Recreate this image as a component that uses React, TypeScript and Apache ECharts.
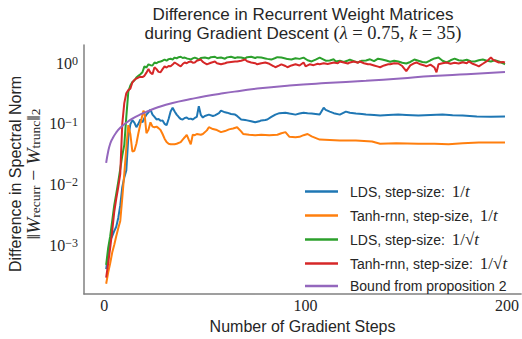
import React, { useEffect, useRef } from "react";
import * as echarts from "echarts";

const seriesNames = [
  "LDS, step-size: 1/t",
  "Tanh-rnn, step-size, 1/t",
  "LDS, step-size: 1/√t",
  "Tanh-rnn, step-size: 1/√t",
  "Bound from proposition 2",
];
const colors = ["#1f77b4", "#ff7f0e", "#2ca02c", "#d62728", "#9467bd"];
const xTicks = [0, 100, 200];

const ldsInvT: [number, number][] = [
  [1, 0.0004], [2, 0.0007], [3, 0.0012], [4, 0.0014], [5, 0.0017], [6, 0.002], [7, 0.0028], [8, 0.0045],
  [9, 0.009], [10, 0.013], [11, 0.017], [12, 0.06], [13, 0.098], [14, 0.115], [15, 0.105], [16, 0.088],
  [17, 0.1], [18, 0.118], [19, 0.106], [20, 0.125], [21, 0.142], [22, 0.155], [23, 0.171], [24, 0.142],
  [25, 0.13], [26, 0.118], [27, 0.12], [28, 0.112], [29, 0.114], [30, 0.1], [31, 0.095], [32, 0.12],
  [33, 0.16], [34, 0.185], [35, 0.16], [36, 0.142], [37, 0.13], [38, 0.12], [39, 0.118], [40, 0.125],
  [41, 0.127], [42, 0.12], [43, 0.122], [44, 0.118], [45, 0.125], [46, 0.13], [47, 0.195], [48, 0.14],
  [49, 0.127], [50, 0.135], [52, 0.142], [54, 0.135], [55, 0.138], [57, 0.15], [58, 0.165], [60, 0.155],
  [61, 0.153], [63, 0.145], [65, 0.142], [66, 0.135], [68, 0.118], [70, 0.116], [71, 0.114], [73, 0.11],
  [75, 0.106], [77, 0.11], [78, 0.114], [80, 0.116], [81, 0.118], [83, 0.13], [85, 0.142], [87, 0.15],
  [90, 0.153], [92, 0.148], [95, 0.142], [97, 0.148], [99, 0.153], [101, 0.15], [103, 0.148], [105, 0.145],
  [107, 0.142], [109, 0.184], [110, 0.17], [112, 0.159], [114, 0.15], [117, 0.142], [120, 0.159], [122, 0.152],
  [125, 0.148], [128, 0.145], [130, 0.142], [134, 0.14], [137, 0.137], [141, 0.14], [146, 0.142], [150, 0.14],
  [156, 0.137], [162, 0.14], [168, 0.142], [173, 0.139], [178, 0.137], [185, 0.132], [192, 0.131], [199, 0.132],
];

const tanhInvT: [number, number][] = [
  [1, 0.00023], [2, 0.00035], [3, 0.0005], [4, 0.00075], [5, 0.001], [6, 0.0014], [7, 0.0019], [8, 0.0025],
  [9, 0.006], [10, 0.015], [11, 0.04], [12, 0.095], [13, 0.068], [14, 0.035], [15, 0.036], [16, 0.047],
  [17, 0.07], [18, 0.1], [19, 0.14], [19.5, 0.165], [20, 0.155], [21, 0.07], [22, 0.08], [23, 0.106],
  [24, 0.09], [25, 0.088], [26, 0.09], [27, 0.085], [28, 0.079], [29, 0.068], [30, 0.057], [31, 0.05],
  [32, 0.047], [33, 0.046], [35, 0.046], [36, 0.047], [38, 0.05], [39, 0.055], [40, 0.06], [41, 0.066],
  [42, 0.055], [43, 0.046], [44, 0.066], [45, 0.065], [46, 0.068], [48, 0.066], [49, 0.068], [51, 0.078],
  [52, 0.088], [54, 0.082], [56, 0.079], [58, 0.073], [60, 0.076], [62, 0.081], [64, 0.084], [66, 0.088],
  [68, 0.075], [69, 0.068], [72, 0.066], [75, 0.065], [78, 0.066], [82, 0.065], [86, 0.066], [88, 0.07],
  [90, 0.073], [92, 0.061], [95, 0.06], [97, 0.061], [99, 0.065], [101, 0.068], [103, 0.062], [107, 0.055],
  [112, 0.054], [117, 0.053], [125, 0.053], [133, 0.051], [137, 0.047], [145, 0.048], [156, 0.047], [164, 0.047],
  [171, 0.046], [178, 0.048], [186, 0.049], [192, 0.049], [199, 0.049],
];

const ldsInvSqrtT: [number, number][] = [
  [1, 0.00047], [2, 0.0009], [3, 0.0014], [4, 0.0025], [5, 0.0045], [6, 0.007], [7, 0.011], [8, 0.018],
  [9, 0.03], [10, 0.045], [11, 0.13], [12, 0.34], [13, 0.43], [14, 0.49], [15, 0.52], [16, 0.58],
  [17, 0.62], [18, 0.66], [19, 0.71], [20, 0.89], [21, 0.85], [22, 0.96], [23, 0.93], [24, 0.92],
  [25, 1.03], [26, 1.0], [27, 1.05], [28, 1.07], [29, 1.1], [30, 1.15], [31, 1.1], [32, 1.17],
  [33, 1.19], [34, 1.15], [35, 1.24], [36, 1.2], [37, 1.26], [38, 1.28], [39, 1.22], [40, 1.24],
  [41, 1.2], [42, 1.18], [43, 1.15], [44, 1.2], [45, 1.24], [46, 1.2], [47, 1.15], [48, 1.22],
  [50, 1.24], [52, 1.2], [53, 1.26], [55, 1.28], [56, 1.22], [58, 1.24], [60, 1.19], [61, 1.25],
  [63, 1.28], [65, 1.22], [66, 1.25], [68, 1.24], [70, 1.2], [71, 1.26], [73, 1.28], [75, 1.22],
  [76, 1.26], [78, 1.24], [80, 1.2], [81, 1.18], [83, 1.15], [85, 1.22], [86, 1.26], [88, 1.24],
  [90, 1.2], [91, 1.17], [93, 1.15], [95, 1.21], [97, 1.18], [99, 1.24], [101, 1.12], [103, 1.07],
  [105, 1.15], [107, 1.24], [109, 1.15], [110, 1.1], [112, 1.11], [114, 1.16], [115, 1.07], [117, 1.1],
  [119, 1.05], [121, 1.11], [122, 1.15], [124, 1.08], [126, 1.03], [128, 1.1], [130, 1.11], [132, 1.16],
  [134, 1.08], [136, 1.19], [138, 1.15], [140, 1.11], [142, 1.06], [144, 1.1], [146, 1.07], [148, 1.02],
  [150, 0.99], [152, 1.05], [154, 1.15], [156, 1.1], [158, 1.05], [160, 1.03], [162, 1.12], [164, 1.2],
  [166, 1.24], [168, 1.1], [170, 1.03], [172, 1.12], [174, 1.19], [176, 1.12], [178, 1.1], [180, 1.14],
  [182, 1.08], [184, 1.07], [186, 1.12], [188, 1.15], [190, 1.1], [192, 1.07], [194, 1.12], [196, 1.07],
  [198, 1.0], [199, 0.96],
];

const tanhInvSqrtT: [number, number][] = [
  [1, 0.00029], [2, 0.0005], [3, 0.0009], [4, 0.0017], [5, 0.0035], [6, 0.0058], [7, 0.009], [8, 0.015],
  [9, 0.1], [10, 0.22], [11, 0.32], [12, 0.36], [13, 0.38], [14, 0.48], [15, 0.53], [16, 0.56],
  [17, 0.58], [18, 0.6], [19, 0.59], [20, 0.62], [21, 0.7], [22, 0.8], [23, 0.7], [24, 0.66],
  [25, 0.86], [26, 0.8], [27, 0.72], [28, 0.71], [29, 0.8], [30, 0.89], [31, 0.85], [32, 0.9],
  [33, 0.89], [34, 0.95], [35, 1.03], [36, 0.98], [37, 0.93], [38, 0.89], [39, 0.97], [40, 1.03],
  [41, 1.0], [42, 1.05], [43, 1.07], [44, 1.02], [45, 1.03], [46, 1.1], [48, 1.15], [49, 1.05],
  [50, 1.0], [51, 0.96], [53, 1.02], [55, 1.07], [56, 1.0], [58, 0.96], [60, 1.0], [61, 1.03],
  [63, 1.05], [65, 1.07], [66, 1.07], [68, 1.1], [70, 1.15], [71, 1.08], [73, 1.03], [75, 1.0],
  [76, 0.96], [78, 1.0], [80, 1.03], [82, 0.98], [84, 0.9], [85, 0.86], [87, 0.92], [88, 0.96],
  [90, 0.9], [91, 0.86], [93, 0.92], [95, 0.96], [97, 0.92], [99, 1.03], [100, 0.89], [102, 0.96],
  [104, 0.93], [106, 0.98], [107, 0.96], [109, 1.0], [111, 0.97], [112, 0.99], [114, 1.03], [116, 1.0],
  [117, 1.07], [119, 1.03], [121, 0.99], [122, 1.03], [124, 1.07], [126, 1.02], [127, 1.07], [129, 1.0],
  [131, 0.96], [132, 0.96], [134, 0.92], [136, 0.88], [137, 0.86], [139, 0.92], [141, 0.96], [142, 0.96],
  [144, 1.0], [146, 0.99], [148, 0.9], [150, 0.74], [152, 0.92], [154, 1.0], [155, 1.03], [157, 0.96],
  [159, 0.92], [160, 0.89], [162, 0.95], [164, 0.85], [165, 0.71], [166, 0.96], [168, 1.0], [170, 1.03],
  [172, 0.98], [174, 1.02], [176, 0.99], [178, 1.04], [180, 1.0], [181, 1.07], [183, 0.98], [185, 0.92],
  [186, 0.89], [188, 0.98], [190, 1.08], [192, 1.24], [193, 1.15], [194, 1.1], [196, 1.03], [198, 1.05],
  [199, 1.03],
];

const boundProp2: [number, number][] = [
  [1, 0.0227], [2, 0.035], [3, 0.047], [4, 0.056], [6, 0.072], [8, 0.086], [11, 0.104], [14, 0.122],
  [18, 0.143], [22, 0.163], [26, 0.184], [34, 0.221], [43, 0.256], [50, 0.285], [59, 0.319], [68, 0.352],
  [76, 0.383], [92, 0.428], [110, 0.47], [130, 0.513], [147, 0.56], [163, 0.616], [180, 0.66], [199, 0.714],
];

const allData = [ldsInvT, tanhInvT, ldsInvSqrtT, tanhInvSqrtT, boundProp2];

const legendRich: Record<string, string> = {
  "LDS, step-size: 1/t": "{a|LDS, step-size: }{n|1/}{i|t}",
  "Tanh-rnn, step-size, 1/t": "{a|Tanh-rnn, step-size, }{n|1/}{i|t}",
  "LDS, step-size: 1/√t": "{a|LDS, step-size: }{n|1/√}{i|t}",
  "Tanh-rnn, step-size: 1/√t": "{a|Tanh-rnn, step-size: }{n|1/√}{i|t}",
  "Bound from proposition 2": "{a|Bound from proposition 2}",
};

const TEXT = "#262626";
const SANS = "Liberation Sans";
const SERIF = "Liberation Serif";

export default function App() {
  const ref = useRef<HTMLDivElement>(null);
  useEffect(() => {
    if (!ref.current) return;
    const chart = echarts.init(ref.current, undefined, { renderer: "svg" });
    chart.setOption({
      animation: false,
      backgroundColor: "#ffffff",
      grid: { left: 84, right: 0, top: 45, bottom: 36, containLabel: false },
      xAxis: {
        type: "value",
        min: -10,
        max: 207,
        name: "Number of Gradient Steps",
        nameLocation: "middle",
        nameGap: 19,
        nameTextStyle: { fontFamily: SANS, fontSize: 16, color: TEXT },
        axisLine: { show: true, onZero: false, lineStyle: { color: "#808080", width: 1.5 } },
        axisTick: { show: false },
        splitLine: { show: false },
        axisLabel: {
          customValues: xTicks,
          margin: 3,
          fontFamily: SERIF,
          fontSize: 16,
          color: TEXT,
          formatter: (v: number) => (xTicks.indexOf(v) >= 0 ? String(v) : ""),
        },
      },
      yAxis: {
        type: "log",
        logBase: 10,
        min: 0.000155,
        max: 2.0,
        axisLine: { show: true, onZero: false, lineStyle: { color: "#808080", width: 1.5 } },
        axisTick: { show: false },
        splitLine: { show: false },
        axisLabel: {
          margin: 6,
          showMinLabel: false,
          showMaxLabel: false,
          formatter: (v: number) => {
            const e = Math.log10(v);
            const r = Math.round(e);
            if (Math.abs(e - r) > 1e-6) return "";
            return `{b|10}{e|${r === 0 ? "0" : "−" + -r}}`;
          },
          rich: {
            b: { fontFamily: SERIF, fontSize: 16, lineHeight: 16, color: TEXT, verticalAlign: "bottom" },
            e: { fontFamily: SERIF, fontSize: 12, lineHeight: 12, color: TEXT, verticalAlign: "top", padding: [0, 0, 9, 0] },
          },
        },
      },
      legend: {
        orient: "vertical",
        left: 300,
        top: 178,
        itemWidth: 33,
        itemHeight: 2.5,
        itemGap: 7,
        icon: "rect",
        selectedMode: false,
        data: seriesNames,
        formatter: (n: string) => legendRich[n] || n,
        textStyle: {
          color: TEXT,
          fontFamily: SANS,
          fontSize: 14,
          padding: [0, 0, 0, 7],
          rich: {
            a: { fontFamily: SANS, fontSize: 14, lineHeight: 16, color: TEXT },
            n: { fontFamily: SERIF, fontSize: 17, lineHeight: 16, color: TEXT, padding: [0, 0, 0, 3] },
            i: { fontFamily: SERIF, fontStyle: "italic", fontSize: 17, lineHeight: 16, color: TEXT },
          },
        },
      },
      graphic: [
        {
          type: "text",
          x: 303,
          y: 23.5,
          style: {
            text:
              "{a|Difference in Recurrent Weight Matrices}\n{a|during Gradient Descent }{n|(}{i|λ}{n| = 0.75, }{i|k}{n| = 35)}",
            align: "center",
            verticalAlign: "middle",
            rich: {
              a: { fontFamily: SANS, fontSize: 17, lineHeight: 19, fill: TEXT },
              n: { fontFamily: SERIF, fontSize: 18.5, lineHeight: 19, fill: TEXT },
              i: { fontFamily: SERIF, fontStyle: "italic", fontSize: 18.5, lineHeight: 19, fill: TEXT },
            },
          },
        },
        {
          type: "text",
          x: 24,
          y: 174,
          rotation: Math.PI / 2,
          style: {
            text:
              "{a|Difference in Spectral Norm}\n{m|‖}{i|W}{s|recurr}{m| − }{i|W}{s|trunc}{m|‖}{s|2}",
            align: "center",
            verticalAlign: "middle",
            rich: {
              a: { fontFamily: SANS, fontSize: 16, lineHeight: 18, fill: TEXT },
              m: { fontFamily: SERIF, fontSize: 19.5, lineHeight: 18, fill: TEXT },
              i: { fontFamily: SERIF, fontStyle: "italic", fontSize: 19.5, lineHeight: 18, fill: TEXT },
              s: { fontFamily: SERIF, fontSize: 13.5, lineHeight: 13, fill: TEXT, verticalAlign: "bottom" },
            },
          },
        },
      ],
      series: seriesNames.map((name, i) => ({
        name,
        type: "line",
        data: allData[i],
        showSymbol: false,
        symbol: "none",
        smooth: i === 4,
        color: colors[i],
        lineStyle: { color: colors[i], width: 2 },
        z: 2 + i,
      })),
    });
    return () => chart.dispose();
  }, []);
  return (
    <div
      ref={ref}
      style={{ position: "fixed", left: 0, top: 0, width: 522, height: 339 }}
    />
  );
}
